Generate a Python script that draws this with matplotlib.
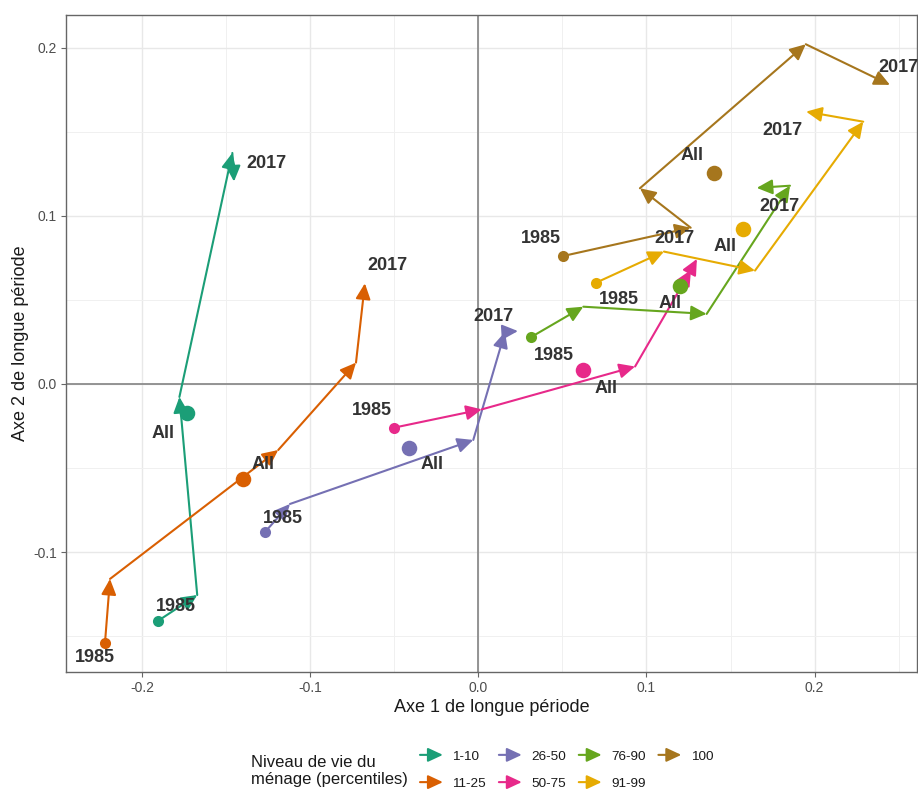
import matplotlib
matplotlib.use("Agg")
import matplotlib.pyplot as plt
from matplotlib.patches import FancyArrowPatch
from matplotlib.legend_handler import HandlerBase
from matplotlib.lines import Line2D
from matplotlib.ticker import MultipleLocator

plt.rcParams['font.family'] = ['Liberation Sans', 'DejaVu Sans']

# ---------------- data ----------------
groups = ["1-10", "11-25", "26-50", "50-75", "76-90", "91-99", "100"]
colors = ["#1B9E77", "#D95F02", "#7570B3", "#E7298A", "#66A61E", "#E6AB02", "#A6761D"]

path_x_1_10 = [-0.1908, -0.1674, -0.1780, -0.1465, -0.1455]
path_y_1_10 = [-0.1410, -0.1256, -0.0077, 0.1375, 0.1205]
path_x_11_25 = [-0.2223, -0.2193, -0.1192, -0.0729, -0.0676]
path_y_11_25 = [-0.1540, -0.1160, -0.0393, 0.0127, 0.0599]
path_x_26_50 = [-0.1269, -0.1122, -0.0031, 0.0158, 0.0235]
path_y_26_50 = [-0.0879, -0.0714, -0.0333, 0.0310, 0.0315]
path_x_50_75 = [-0.0503, 0.0020, 0.0932, 0.1265, 0.1300]
path_y_50_75 = [-0.0260, -0.0151, 0.0104, 0.0679, 0.0744]
path_x_76_90 = [0.0311, 0.0624, 0.1358, 0.1854, 0.1656]
path_y_76_90 = [0.0278, 0.0460, 0.0417, 0.1180, 0.1167]
path_x_91_99 = [0.0700, 0.1104, 0.1646, 0.2290, 0.1950]
path_y_91_99 = [0.0603, 0.0788, 0.0675, 0.1561, 0.1621]
path_x_100 = [0.0505, 0.1263, 0.0961, 0.1948, 0.2449]
path_y_100 = [0.0762, 0.0930, 0.1165, 0.2022, 0.1780]

all_x = [-0.1737, -0.1400, -0.0412, 0.0624, 0.1200, 0.1576, 0.1404]
all_y = [-0.0175, -0.0567, -0.0379, 0.0083, 0.0583, 0.0923, 0.1258]

paths_x = [path_x_1_10, path_x_11_25, path_x_26_50, path_x_50_75, path_x_76_90, path_x_91_99, path_x_100]
paths_y = [path_y_1_10, path_y_11_25, path_y_26_50, path_y_50_75, path_y_76_90, path_y_91_99, path_y_100]

label_start = "1985"
label_end = "2017"
label_all = "All"

# label offsets in pixels (dx, dy with y up) : start, all, end
off_start = [(18, 14), (-10, -15), (18, 13), (-22, 17), (23, -18), (23, -17), (-22, 17)]
off_all = [(-24, -20), (20, 15), (23, -17), (23, -18), (-10, -17), (-18, -18), (-22, 17)]
off_end = [(32, 18), (23, 18), (-25, 15), (-22, 20), (23, -19), (-24, -19), (8, 17)]

# ---------------- figure ----------------
fig = plt.figure(figsize=(9.18, 7.92), dpi=100)
ax = fig.add_axes([66 / 918, 1 - 672 / 792, (917 - 66) / 918, (672 - 15) / 792])
ax.set_xlim(-0.2455, 0.261)
ax.set_ylim(-0.1714, 0.2196)

ax.xaxis.set_major_locator(MultipleLocator(0.1))
ax.yaxis.set_major_locator(MultipleLocator(0.1))
ax.xaxis.set_minor_locator(MultipleLocator(0.05))
ax.yaxis.set_minor_locator(MultipleLocator(0.05))
ax.grid(True, which='major', color='#e8e8e8', lw=1.0, zorder=0)
ax.grid(True, which='minor', color='#f0f0f0', lw=0.7, zorder=0)
ax.set_axisbelow(True)
ax.tick_params(which='minor', length=0)
ax.tick_params(which='major', length=3.5, width=0.8, color='#666666', labelcolor='#4d4d4d', labelsize=10, pad=3)
for s in ax.spines.values():
    s.set_color('#666666')
    s.set_linewidth(1.0)

def fmt(v, pos=None):
    return "%.1f" % v if abs(v) > 1e-9 else "0.0"
ax.xaxis.set_major_formatter(plt.FuncFormatter(fmt))
ax.yaxis.set_major_formatter(plt.FuncFormatter(fmt))

ax.axhline(0, color='#8c8c8c', lw=1.3, zorder=1)
ax.axvline(0, color='#8c8c8c', lw=1.3, zorder=1)

ax.set_xlabel("Axe 1 de longue période", fontsize=13, color='#1a1a1a', labelpad=3)
ax.set_ylabel("Axe 2 de longue période", fontsize=13, color='#1a1a1a', labelpad=3)

astyle = "-|>,head_length=0.95,head_width=0.45"
for g in range(len(groups)):
    xs, ys, c = paths_x[g], paths_y[g], colors[g]
    for i in range(len(xs) - 1):
        arr = FancyArrowPatch((xs[i], ys[i]), (xs[i + 1], ys[i + 1]), arrowstyle=astyle,
                              mutation_scale=10, color=c, lw=1.5, shrinkA=0, shrinkB=0,
                              zorder=3 + g * 0.1)
        ax.add_patch(arr)
    ax.scatter([xs[0]], [ys[0]], s=64, color=c, zorder=4 + g * 0.1, linewidths=0)
    ax.scatter([all_x[g]], [all_y[g]], s=125, color=c, zorder=4 + g * 0.1, linewidths=0)

tkw = dict(textcoords='offset pixels', ha='center', va='center', fontsize=13,
           fontweight='bold', color='#333333', zorder=6)
for g in range(len(groups)):
    xs, ys = paths_x[g], paths_y[g]
    ax.annotate(label_start, (xs[0], ys[0]), xytext=off_start[g], **tkw)
    ax.annotate(label_all, (all_x[g], all_y[g]), xytext=off_all[g], **tkw)
    ax.annotate(label_end, (xs[-1], ys[-1]), xytext=off_end[g], **tkw)

# ---------------- legend ----------------
class ArrowHandler(HandlerBase):
    def create_artists(self, legend, orig_handle, xdescent, ydescent, width, height, fontsize, trans):
        y = height / 2 - ydescent
        a = FancyArrowPatch((-xdescent, y), (-xdescent + width, y),
                            arrowstyle="-|>,head_length=0.9,head_width=0.42", mutation_scale=10,
                            color=orig_handle.get_color(), lw=1.5, shrinkA=0, shrinkB=0,
                            transform=trans)
        return [a]

handles = [Line2D([], [], color=c) for c in colors]
leg = fig.legend(handles, groups, handler_map={Line2D: ArrowHandler()}, ncol=4,
                 frameon=False, fontsize=9.7, handlelength=1.7, handletextpad=0.7,
                 columnspacing=0.95, labelspacing=1.1, loc='center left',
                 bbox_to_anchor=(420 / 918, 1 - 770 / 792), borderaxespad=0, borderpad=0)
for t in leg.get_texts():
    t.set_color('#1a1a1a')
fig.text(251 / 918, 1 - 771 / 792, "Niveau de vie du\nménage (percentiles)", fontsize=12,
         ha='left', va='center', color='#1a1a1a', linespacing=1.15)

fig.savefig("out.png", dpi=100)
